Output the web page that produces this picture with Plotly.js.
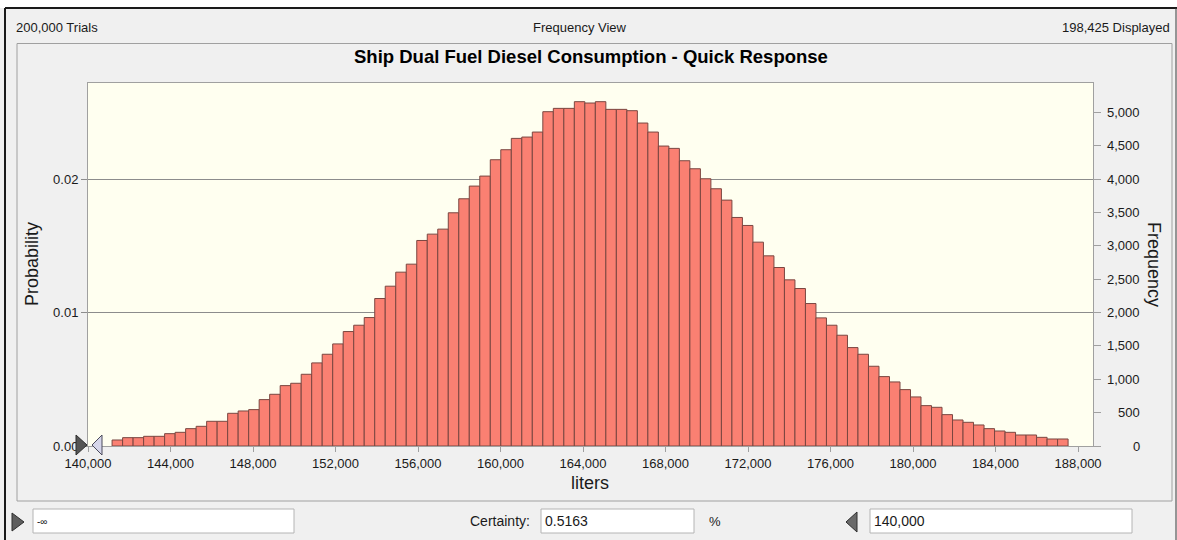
<!DOCTYPE html>
<html>
<head>
<meta charset="utf-8">
<script src="https://cdn.plot.ly/plotly-3.0.1.min.js"></script>
<style>
  html, body { margin: 0; padding: 0; background: #f0f0f0; }
  #chart { width: 1177px; height: 540px; }
</style>
</head>
<body>
<div id="chart"></div>
<script>
// ---------------- data ----------------
const totalTrials = 200000;
const displayedTrials = 198425;
const binStart = 141168;      // lower edge of first bin (liters)
const binWidth = 509.3;       // liters per bin
const frequencies = [
  90, 125, 125, 145, 145, 185, 205, 260, 295, 370,
  370, 490, 525, 545, 695, 775, 905, 940, 1075, 1245,
  1375, 1530, 1715, 1810, 1925, 2210, 2395, 2605, 2725, 3080,
  3175, 3250, 3495, 3705, 3895, 4045, 4290, 4440, 4610, 4630,
  4705, 5010, 5060, 5060, 5160, 5140, 5160, 5045, 5045, 5025,
  4840, 4705, 4495, 4460, 4275, 4155, 4005, 3855, 3685, 3425,
  3305, 3055, 2850, 2675, 2490, 2360, 2135, 1920, 1810, 1660,
  1475, 1375, 1195, 1040, 960, 845, 735, 605, 580, 470,
  390, 355, 315, 260, 225, 205, 165, 165, 130, 105, 105
];
const xTickVals = [140000, 144000, 148000, 152000, 156000, 160000, 164000, 168000, 172000, 176000, 180000, 184000, 188000];
const probTickVals = [0, 0.01, 0.02];
const freqTickVals = [0, 500, 1000, 1500, 2000, 2500, 3000, 3500, 4000, 4500, 5000];
const xRange = [140000, 188722];
const freqMax = 5440;
const chartTitle = 'Ship Dual Fuel Diesel Consumption - Quick Response';
const xTitle = 'liters';
const probTitle = 'Probability';
const freqTitle = 'Frequency';
const certaintyValue = '0.5163';
const lowerBound = '-∞';
const upperBound = '140,000';

// ---------------- geometry helpers ----------------
const W = 1177, H = 540;
const L = 88, R = 1093, T = 83, B = 446;
const px = x => (x - L) / (R - L);
const py = y => (B - y) / (B - T);
const pt = (x, y) => px(x) + ',' + py(y);

const FONT = 'Liberation Sans, Arial, sans-serif';
const TXT = '#1a1a1a';

const binCenters = frequencies.map((_, i) => binStart + binWidth * (i + 0.5));

const traces = [
  { type: 'scatter', x: [xRange[0]], y: [0], mode: 'none', xaxis: 'x', yaxis: 'y',
    showlegend: false, hoverinfo: 'skip' },
  { type: 'bar', x: binCenters, y: frequencies, width: binWidth, xaxis: 'x', yaxis: 'y2',
    marker: { color: '#FA8072', line: { color: '#7a4640', width: 1 } },
    showlegend: false, hovertemplate: '%{x:,.0f}: %{y}<extra></extra>' }
];

function ann(text, x, y, opts) {
  return Object.assign({ text: text, x: px(x), y: py(y), xref: 'paper', yref: 'paper',
    showarrow: false, xanchor: 'center', yanchor: 'middle',
    font: { family: FONT, size: 13, color: TXT } }, opts || {});
}

const annotations = [
  ann(totalTrials.toLocaleString('en-US') + ' Trials', 14, 27, { xanchor: 'left' }),
  ann('Frequency View', 580, 27),
  ann(displayedTrials.toLocaleString('en-US') + ' Displayed', 1172, 27, { xanchor: 'right' }),
  ann('<b>' + chartTitle + '</b>', 591, 57, { font: { family: FONT, size: 18.5, color: '#000' } }),
  ann(probTitle, 32, 264, { textangle: -90, font: { family: FONT, size: 18, color: TXT } }),
  ann(freqTitle, 1154, 264, { textangle: 90, font: { family: FONT, size: 18, color: TXT } }),
  ann(xTitle, 590, 483, { font: { family: FONT, size: 18, color: TXT } }),
  ann(lowerBound, 35, 521, { xanchor: 'left', font: { family: FONT, size: 10, color: TXT } }),
  ann('Certainty:', 532, 521, { xanchor: 'right', font: { family: FONT, size: 14, color: TXT } }),
  ann(certaintyValue, 543, 521, { xanchor: 'left', font: { family: FONT, size: 14, color: TXT } }),
  ann('%', 707, 521, { xanchor: 'left' }),
  ann(upperBound, 872, 521, { xanchor: 'left', font: { family: FONT, size: 14, color: TXT } })
];
freqTickVals.forEach(v => {
  annotations.push({ text: v.toLocaleString('en-US'), x: px(1142), xref: 'paper', y: v, yref: 'y2',
    xanchor: 'right', yanchor: 'middle', showarrow: false,
    font: { family: FONT, size: 13, color: TXT } });
});

function rect(x0, y0, x1, y1, fill, line, lw, layer) {
  return { type: 'rect', xref: 'paper', yref: 'paper', x0: px(x0), x1: px(x1), y0: py(y0), y1: py(y1),
    fillcolor: fill, line: { color: line, width: lw }, layer: layer || 'below' };
}
function seg(x0, y0, x1, y1, color, w) {
  return { type: 'line', xref: 'paper', yref: 'paper', x0: px(x0), x1: px(x1), y0: py(y0), y1: py(y1),
    line: { color: color, width: w }, layer: 'above' };
}
function tri(a, b, c, fill, line) {
  return { type: 'path', xref: 'paper', yref: 'paper',
    path: 'M' + pt(a[0], a[1]) + 'L' + pt(b[0], b[1]) + 'L' + pt(c[0], c[1]) + 'Z',
    fillcolor: fill, line: { color: line, width: 1 }, layer: 'above' };
}

const shapes = [
  rect(0, 0, W, 8, '#ffffff', '#ffffff', 0),
  rect(17, 43.5, 1172, 501, 'rgba(0,0,0,0)', '#a0a0a0', 1),
  rect(33, 509, 294, 533, '#ffffff', '#b4b4b4', 1),
  rect(541, 509, 694, 533, '#ffffff', '#b4b4b4', 1),
  rect(870, 509, 1132, 533, '#ffffff', '#b4b4b4', 1),
  seg(5, 8, W, 8, '#1a1a1a', 2),
  seg(5, 8, 5, H, '#1a1a1a', 2),
  seg(1176, 8, 1176, H, '#3a3a3a', 1),
  tri([76, 435], [87, 445], [76, 455], '#555555', '#2e2e2e'),
  tri([102, 435], [92, 445], [102, 455], '#d6d6ea', '#4a4a5a'),
  tri([12, 513], [24, 522], [12, 531], '#5e5e5e', '#2e2e2e'),
  tri([857, 512], [846, 522], [857, 532], '#6a6a6a', '#2e2e2e')
];

const layout = {
  width: W, height: H,
  margin: { l: L, r: W - R, t: T, b: H - B, pad: 0 },
  paper_bgcolor: '#f0f0f0',
  plot_bgcolor: '#fffff0',
  bargap: 0,
  showlegend: false,
  font: { family: FONT, size: 13, color: TXT },
  xaxis: {
    range: xRange, tickvals: xTickVals, tickformat: ',', ticks: 'outside', ticklen: 5,
    tickcolor: '#a0a0a0', showline: true, mirror: true, linecolor: '#a0a0a0', linewidth: 1,
    showgrid: false, zeroline: false, automargin: false,
    tickfont: { family: FONT, size: 13, color: TXT }, fixedrange: true
  },
  yaxis: {
    range: [0, freqMax / totalTrials], tickvals: probTickVals, tickformat: '.2f',
    ticks: 'outside', ticklen: 6, tickcolor: '#8c8c8c',
    showgrid: true, gridcolor: '#8c8c8c', gridwidth: 1,
    showline: true, mirror: true, linecolor: '#a0a0a0', linewidth: 1,
    zeroline: false, automargin: false,
    tickfont: { family: FONT, size: 13, color: TXT }, fixedrange: true
  },
  yaxis2: {
    overlaying: 'y', side: 'right', range: [0, freqMax], tickvals: freqTickVals,
    ticks: 'outside', ticklen: 7, tickcolor: '#a0a0a0', showticklabels: false,
    showgrid: false, zeroline: false, showline: false, automargin: false, fixedrange: true
  },
  annotations: annotations,
  shapes: shapes
};

Plotly.newPlot('chart', traces, layout, { displayModeBar: false, staticPlot: true });
</script>
</body>
</html>
